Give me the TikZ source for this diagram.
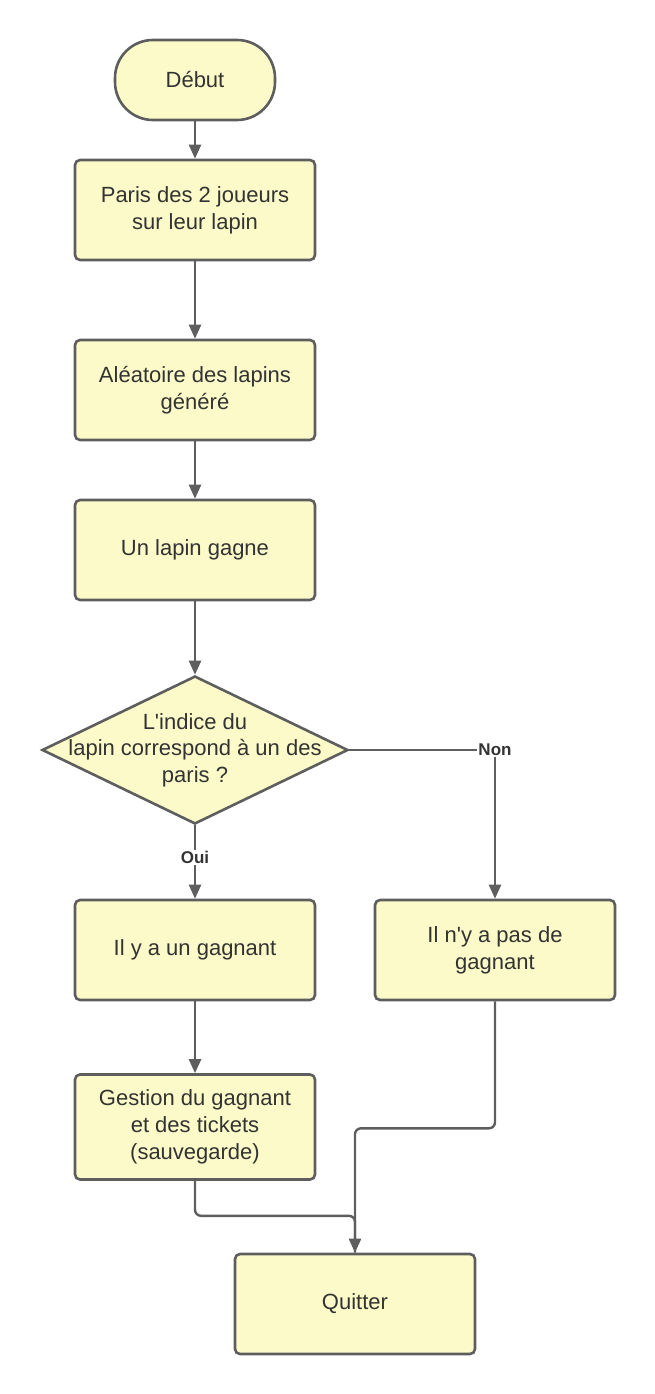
\documentclass[tikz,border=0pt]{standalone}
\usepackage{fontspec}
\setmainfont{Liberation Sans}
\usetikzlibrary{positioning,shapes.geometric,arrows.meta}
\definecolor{boxfill}{HTML}{FBFAC8}
\definecolor{boxline}{HTML}{5E5E5E}
\definecolor{boxtext}{HTML}{333333}
\tikzset{
  etape/.style={draw=boxline,fill=boxfill,line width=2.6pt,rounded corners=5pt,
    minimum width=240pt,minimum height=100pt,align=center,text=boxtext,
    font=\fontsize{22}{27}\selectfont},
  debutfin/.style={etape,rounded corners=38pt,minimum width=160pt,minimum height=80pt},
  test/.style={draw=boxline,fill=boxfill,line width=2.6pt,diamond,inner sep=0pt,
    minimum width=306pt,minimum height=148pt},
  choix/.style={font=\fontsize{17}{19}\bfseries\selectfont,text=boxtext,fill=white,inner sep=1pt}
}

\begin{document}
\begin{tikzpicture}[>={Triangle[length=14pt,width=12pt]},node distance=2cm,on grid,
  line width=2.4pt,draw=boxline]
   \useasboundingbox (0pt,0pt) rectangle (655pt,-1394pt);
   \node[debutfin] (debut) at (195pt,-80pt) {Début};
   \node[etape] (paris) [below=130pt of debut] {Paris des 2 joueurs\\sur leur lapin};
   \node[etape] (alea) [below=180pt of paris] {Aléatoire des lapins\\généré};
   \node[etape] (gagne) [below=160pt of alea] {Un lapin gagne};
   \node[test,label={[align=center,text=boxtext,font=\fontsize{22}{26.5}\selectfont]center:L\textquotesingle indice du\\lapin correspond à un des\\paris ?}]
     (indice) [below=200pt of gagne] {};
   \node[etape] (gagnant) [below=200pt of indice] {Il y a un gagnant};
   \node[etape] (rien) [right=300pt of gagnant] {Il n\textquotesingle y a pas de\\gagnant};
   \node[etape,minimum height=105pt] (gestion) [below=177pt of gagnant] {Gestion du gagnant\\et des tickets\\(sauvegarde)};
   \node[etape] (quitter) [below right=177pt and 160pt of gestion] {Quitter};
    \path[->,draw=boxline]
    (debut) edge (paris)
    (paris) edge (alea)
    (alea) edge (gagne)
    (gagne) edge (indice)
    (indice) edge node [choix,pos=0.44] {Oui} (gagnant)
    (gagnant) edge (gestion);
    \draw[->,draw=boxline] (indice.east) -| node [choix,pos=0.5] {Non} (rien.north);
    \draw[->,draw=boxline,rounded corners=6pt] (rien.south) -- ++(0,-127pt) -| (quitter.north);
    \draw[draw=boxline,rounded corners=6pt] (gestion.south) -- ++(0,-35pt) -| (quitter.north);
\end{tikzpicture}
\end{document}
